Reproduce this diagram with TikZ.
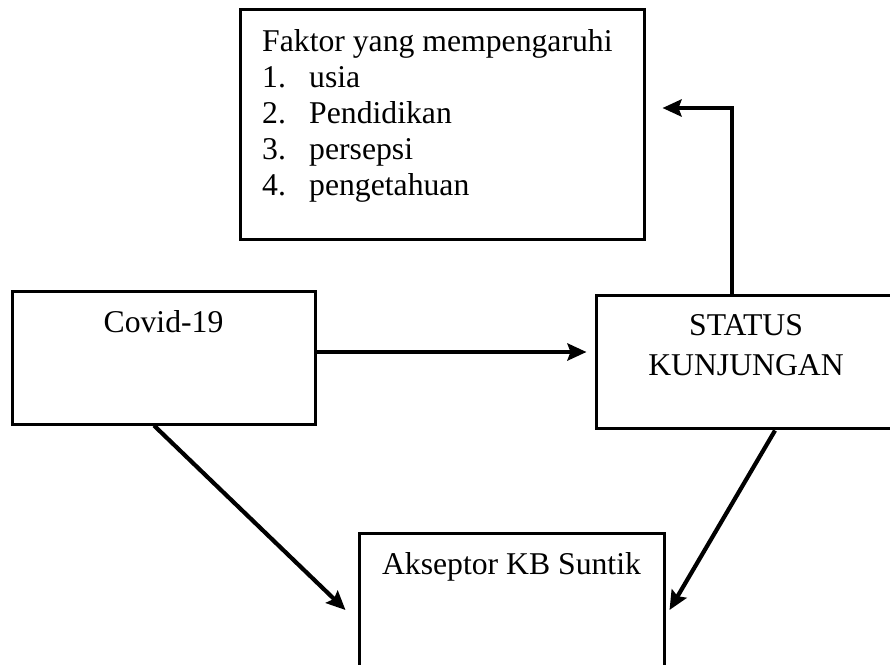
\documentclass[tikz,border=0pt]{standalone}
\usepackage{fontspec}
\setmainfont{Liberation Serif}
\usetikzlibrary{arrows.meta,calc}
\tikzset{
  box/.style={draw=black, line width=3pt, fill=none, rectangle, inner sep=0pt},
  txt/.style={inner sep=0pt, font=\fontsize{31.7}{36}\selectfont},
  arr/.style={line width=4.2pt, -{Stealth[length=19pt,width=17pt,inset=3pt]}}
}
\begin{document}
\begin{tikzpicture}[x=1pt,y=-1pt]
\useasboundingbox (0,0) rectangle (890,664);
\clip (0,0) rectangle (890,664);
\fill[white] (0,0) rectangle (890,664);
% boxes
\node[box, minimum width=404pt, minimum height=230pt] (top) at (442,124) {};
\node[box, minimum width=303pt, minimum height=133pt] (covid) at (163.5,357.5) {};
\node[box, minimum width=300pt, minimum height=133pt] (status) at (746,361.5) {};
\node[box, minimum width=305pt, minimum height=167pt] (aks) at (511.5,616.5) {};
% texts
\node[txt, anchor=base west] (f0) at (262,51) {Faktor yang mempengaruhi};
\node[txt, anchor=base west] (n1) at (262,87) {1.};
\node[txt, anchor=base west] (i1) at (309,87) {usia};
\node[txt, anchor=base west] (n2) at (262,123) {2.};
\node[txt, anchor=base west] (i2) at (309,123) {Pendidikan};
\node[txt, anchor=base west] (n3) at (262,159) {3.};
\node[txt, anchor=base west] (i3) at (309,159) {persepsi};
\node[txt, anchor=base west] (n4) at (262,195) {4.};
\node[txt, anchor=base west] (i4) at (309,195) {pengetahuan};
\node[txt, anchor=base] (tc) at (163.5,332) {Covid-19};
\node[txt, anchor=base] (ts1) at (746,335) {STATUS};
\node[txt, anchor=base] (ts2) at (746,375) {KUNJUNGAN};
\node[txt, anchor=base] (ta) at (511.5,574) {Akseptor KB Suntik};
% connectors
\draw[arr] ($(covid.east)+(0,-5.5)$) -- ($(status.west)+(-8,-9.5)$);
\draw[arr] ($(status.north)+(-14,0)$) |- ($(top.east)+(17,-16)$);
\draw[arr] ($(covid.south)+(-9.5,0)$) -- ($(aks.west)+(-12,-6.5)$);
\draw[arr] ($(status.south)+(29,1)$) -- ($(aks.east)+(4,-6.5)$);
\end{tikzpicture}
\end{document}
